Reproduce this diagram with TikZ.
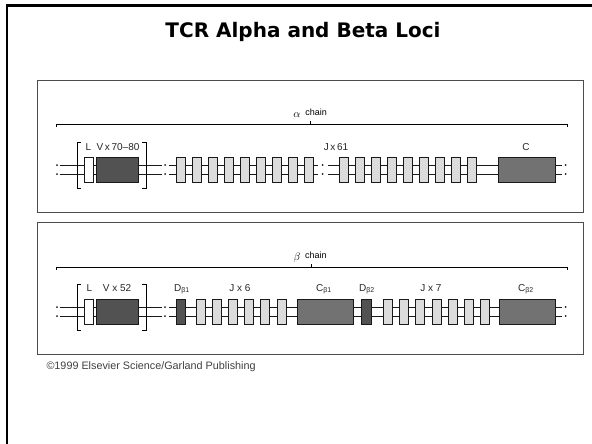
\documentclass[tikz,border=0pt]{standalone}
\usepackage{fontspec}
\setmainfont{Liberation Sans}
\newfontfamily\titlefont{DejaVu Sans}
\usepackage{tikz}
\usetikzlibrary{positioning}

\definecolor{vdark}{HTML}{525252}
\definecolor{cmid}{HTML}{727272}
\definecolor{jlight}{HTML}{DCDCDC}

\tikzset{
  gene/.style={draw=black!90, line width=0.8pt, minimum height=25pt, inner sep=0pt, anchor=west},
  lbox/.style={gene, fill=white, minimum width=9pt},
  vbox/.style={gene, fill=vdark, minimum width=42pt},
  jbox/.style={gene, fill=jlight, minimum width=8.5pt},
  dbox/.style={gene, fill=vdark, minimum width=9pt},
  cbox/.style={gene, fill=cmid, minimum width=57pt},
  strand/.style={line width=0.75pt, black!90},
  seglabel/.style={font=\fontsize{10}{12}\selectfont, text=black!85, inner sep=0pt, anchor=base},
  panel/.style={draw=black!70, line width=0.9pt},
}

% two strands of DNA between two points
\newcommand{\twin}[2]{%
  \draw[strand] ([yshift=4.5pt]#1) -- ([yshift=4.5pt]#2);
  \draw[strand] ([yshift=-4.5pt]#1) -- ([yshift=-4.5pt]#2);}
% the ':' where the locus is cut
\newcommand{\cutmark}[1]{%
  \fill[black!90] ([yshift=4.5pt]#1) circle (1pt);
  \fill[black!90] ([yshift=-4.5pt]#1) circle (1pt);}

\begin{document}
\begin{tikzpicture}[x=1pt, y=-1pt]
  \useasboundingbox (0,0) rectangle (592,444);
  \draw[line width=2.5pt] (7,444) -- (7,5.5) -- (592,5.5);
  \node[font=\titlefont\bfseries\fontsize{20}{24}\selectfont] (title) at (303,32) {TCR Alpha and Beta Loci};

  % alpha locus
  \begin{scope}
    \draw[panel] (37,80) rectangle (583,212);
    \draw[line width=0.6pt] (56,127) -- (56,124) -- (567,124) -- (567,127);
    \draw[line width=0.6pt] (310,124) -- (310,121);
    \node[font=\fontsize{11}{12}\selectfont] (alab) at (297,115) {$\alpha$};
    \node[font=\fontsize{9}{10}\selectfont, right=1pt of alab.east, yshift=3pt, inner sep=0pt] (achain) {chain};

    \draw[line width=0.6pt] (81,142) -- (77,142) -- (77,188) -- (81,188);
    \draw[line width=0.6pt] (142,142) -- (146,142) -- (146,188) -- (142,188);

    \coordinate (acut1) at (57,169.5);
    \coordinate (as) at (59.5,169.5);
    \node[lbox] (aL) at (84,169.5) {};
    \node[vbox] (aV) at (96,169.5) {};
    \coordinate (ae1) at (162,169.5);
    \coordinate (acut2) at (165,169.5);
    \coordinate (as2) at (169,169.5);
    \foreach \k in {1,...,9}
      \node[jbox] (aJ\k) at ({176+16*(\k-1)},169.5) {};
    \coordinate (ae2) at (318,169.5);
    \coordinate (acut3) at (322.5,169.5);
    \coordinate (as3) at (328,169.5);
    \foreach \k in {10,...,18}
      \node[jbox] (aJ\k) at ({339+16*(\k-10)},169.5) {};
    \node[cbox] (aC) at (498,169.5) {};
    \coordinate (ae3) at (562,169.5);
    \coordinate (acut4) at (565.5,169.5);

    \twin{as}{aL.west}
    \twin{aL.east}{aV.west}
    \twin{aV.east}{ae1}
    \twin{as2}{aJ1.west}
    \foreach \k in {1,...,8}{
      \pgfmathtruncatemacro\nx{\k+1}
      \twin{aJ\k.east}{aJ\nx.west}}
    \twin{aJ9.east}{ae2}
    \twin{as3}{aJ10.west}
    \foreach \k in {10,...,17}{
      \pgfmathtruncatemacro\nx{\k+1}
      \twin{aJ\k.east}{aJ\nx.west}}
    \twin{aJ18.east}{aC.west}
    \twin{aC.east}{ae3}
    \foreach \c in {acut1,acut2,acut3,acut4} {\cutmark{\c}}

    \node[seglabel] (aLlab) at (88.5,150) {L};
    \node[seglabel] (aVlab) at (118,150) {V\,x\,70–80};
    \node[seglabel] (aJlab) at (336,150) {J\,x\,61};
    \node[seglabel] (aClab) at (526,150) {C};
  \end{scope}

  % beta locus
  \begin{scope}[shift={(0,142)}]
    \draw[panel] (37,80) rectangle (583,212);
    \draw[line width=0.6pt] (56,128) -- (56,125) -- (567,125) -- (567,128);
    \draw[line width=0.6pt] (311,125) -- (311,122);
    \node[font=\fontsize{11}{12}\selectfont] (blab) at (297,116) {$\beta$};
    \node[font=\fontsize{9}{10}\selectfont, right=1pt of blab.east, yshift=3pt, inner sep=0pt] (bchain) {chain};

    \draw[line width=0.6pt] (81,142) -- (77,142) -- (77,188) -- (81,188);
    \draw[line width=0.6pt] (142,142) -- (146,142) -- (146,188) -- (142,188);

    \coordinate (bcut1) at (57,169.5);
    \coordinate (bs) at (59.5,169.5);
    \node[lbox] (bL) at (84,169.5) {};
    \node[vbox] (bV) at (96,169.5) {};
    \coordinate (be1) at (162,169.5);
    \coordinate (bcut2) at (165,169.5);
    \coordinate (bs2) at (169,169.5);
    \node[dbox] (bD1) at (176,169.5) {};
    \foreach \k in {1,...,6}
      \node[jbox, minimum width=9pt] (bJ\k) at ({196+16.1*(\k-1)},169.5) {};
    \node[cbox, minimum width=56pt] (bC1) at (297,169.5) {};
    \node[dbox, minimum width=10pt] (bD2) at (361,169.5) {};
    \foreach \k in {7,...,13}
      \node[jbox, minimum width=9pt] (bJ\k) at ({383+16.2*(\k-7)},169.5) {};
    \node[cbox, minimum width=56pt] (bC2) at (499,169.5) {};
    \coordinate (be3) at (562,169.5);
    \coordinate (bcut4) at (565.5,169.5);

    \twin{bs}{bL.west}
    \twin{bL.east}{bV.west}
    \twin{bV.east}{be1}
    \twin{bs2}{bD1.west}
    \twin{bD1.east}{bJ1.west}
    \foreach \k in {1,...,5}{
      \pgfmathtruncatemacro\nx{\k+1}
      \twin{bJ\k.east}{bJ\nx.west}}
    \twin{bJ6.east}{bC1.west}
    \twin{bC1.east}{bD2.west}
    \twin{bD2.east}{bJ7.west}
    \foreach \k in {7,...,12}{
      \pgfmathtruncatemacro\nx{\k+1}
      \twin{bJ\k.east}{bJ\nx.west}}
    \twin{bJ13.east}{bC2.west}
    \twin{bC2.east}{be3}
    \foreach \c in {bcut1,bcut2,bcut4} {\cutmark{\c}}

    \node[seglabel] (bLlab) at (89.5,149) {L};
    \node[seglabel] (bVlab) at (117,149) {V x 52};
    \node[seglabel] (bD1lab) at (182,149) {D\textsubscript{β1}};
    \node[seglabel] (bJ6lab) at (240,149) {J x 6};
    \node[seglabel] (bC1lab) at (324,149) {C\textsubscript{β1}};
    \node[seglabel] (bD2lab) at (367,149) {D\textsubscript{β2}};
    \node[seglabel] (bJ7lab) at (431,149) {J x 7};
    \node[seglabel] (bC2lab) at (526,149) {C\textsubscript{β2}};
  \end{scope}

  \node[anchor=west, font=\fontsize{10.8}{12}\selectfont, text=black!75] (credit) at (43,367) {©1999 Elsevier Science/Garland Publishing};
\end{tikzpicture}
\end{document}
